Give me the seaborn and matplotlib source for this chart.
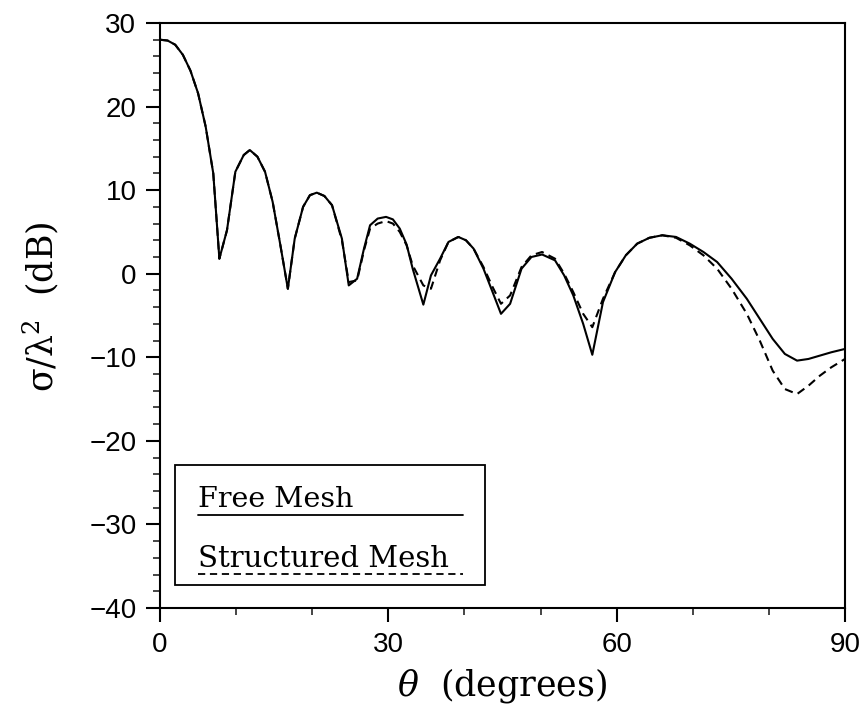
import matplotlib
matplotlib.use("Agg")
import matplotlib.pyplot as plt
import seaborn as sns
import pandas as pd
from matplotlib.patches import Rectangle
from matplotlib.ticker import MultipleLocator

theta = [0, 1, 2, 3, 4, 5, 6, 7, 7.8, 8.8, 9.9, 11, 11.8, 12.8, 13.8, 14.8, 15.8, 16.8,
         17.7, 18.8, 19.7, 20.6, 21.6, 22.6, 23.9, 24.8, 25.9, 26.8, 27.6, 28.6, 29.7,
         30.6, 31.5, 32.4, 33.2, 34.6, 35.6, 36.8, 37.9, 39.2, 40.2, 41.2, 42.5, 43.7,
         44.8, 46, 47.5, 48.8, 50.2, 51.9, 53.1, 54.3, 55.6, 56.8, 58.2, 59.8, 61.2,
         62.7, 64.3, 66, 67.8, 69.6, 71.4, 73.2, 75.1, 77.1, 78.8, 80.5, 82.1, 83.7,
         85.2, 86.7, 88.2, 90]

free_mesh = [28, 27.9, 27.4, 26.2, 24.3, 21.6, 17.6, 12.0, 1.8, 5.2, 12.2, 14.2, 14.8, 14.0,
             12.2, 8.6, 3.5, -1.8, 4.2, 8.0, 9.4, 9.7, 9.3, 8.2, 4.2, -1.4, -0.6, 3.0,
             5.8, 6.6, 6.8, 6.5, 5.4, 3.5, 0.6, -3.7, -0.2, 1.8, 3.8, 4.4, 4.0, 3.0, 0.6,
             -2.2, -4.8, -3.6, 0.6, 2.0, 2.3, 1.6, -0.2, -2.6, -6.0, -9.7, -3.4, 0.2,
             2.2, 3.6, 4.3, 4.6, 4.4, 3.6, 2.6, 1.4, -0.6, -3.0, -5.4, -7.8, -9.6, -10.4,
             -10.2, -9.8, -9.4, -9.0]

structured_mesh = [28, 27.9, 27.4, 26.2, 24.3, 21.6, 17.6, 12.0, 1.8, 5.2, 12.2, 14.2, 14.8, 14.0,
                   12.2, 8.6, 3.5, -1.8, 4.2, 8.0, 9.4, 9.7, 9.3, 8.2, 4.0, -1.0, -0.8, 2.8,
                   5.4, 6.0, 6.3, 6.0, 5.0, 3.4, 1.0, -1.4, -1.8, 1.6, 3.8, 4.4, 4.0, 3.0, 0.8,
                   -1.6, -3.6, -2.6, 0.8, 2.2, 2.6, 1.8, 0.0, -2.2, -4.8, -6.4, -3.0, 0.2,
                   2.2, 3.6, 4.3, 4.6, 4.3, 3.4, 2.2, 0.6, -1.8, -4.8, -8.0, -11.6, -13.8, -14.4,
                   -13.4, -12.2, -11.2, -10.2]

series_names = ["Free Mesh", "Structured Mesh"]
x_ticks = [0, 30, 60, 90]
y_ticks = [-40, -30, -20, -10, 0, 10, 20, 30]

df = pd.concat([
    pd.DataFrame({"theta": theta, "rcs": free_mesh, "mesh": series_names[0]}),
    pd.DataFrame({"theta": theta, "rcs": structured_mesh, "mesh": series_names[1]}),
])

sns.set_style("ticks")
plt.rcParams["font.family"] = ["Liberation Sans", "DejaVu Sans"]
plt.rcParams["text.color"] = "black"
plt.rcParams["axes.labelcolor"] = "black"
plt.rcParams["mathtext.fontset"] = "dejavuserif"
plt.rcParams["mathtext.default"] = "regular"

fig = plt.figure(figsize=(8.63, 7.06), dpi=100)
ax = fig.add_axes([160/863, 1-608/706, 685/863, 585/706])

sns.lineplot(data=df, x="theta", y="rcs", hue="mesh", style="mesh",
             palette=["black", "black"], dashes=[(None, None), (4, 2.6)],
             linewidth=1.5, legend=False, ax=ax, sort=False, estimator=None)

ax.set_xlim(0, 90)
ax.set_ylim(-40, 30)
ax.set_xticks(x_ticks)
ax.set_yticks(y_ticks)
ax.xaxis.set_minor_locator(MultipleLocator(10))
ax.yaxis.set_minor_locator(MultipleLocator(2))
ax.tick_params(axis="both", which="major", direction="out", length=10, width=1.5,
               labelsize=20, colors="black", pad=7, top=False, right=False)
ax.tick_params(axis="both", which="minor", direction="out", length=5, width=1.2,
               top=False, right=False)
for sp in ax.spines.values():
    sp.set_visible(True)
    sp.set_linewidth(1.5)
    sp.set_color("black")

ax.set_xlabel(r"$\mathit{\theta}$  (degrees)", fontsize=25, family="DejaVu Serif", labelpad=6)
ax.set_ylabel(r"σ/λ$^{2}$  (dB)", fontsize=25, family="DejaVu Serif")
ax.yaxis.set_label_coords(-0.145, 0.515)

# custom legend box (text with sample line beneath)
ax.add_patch(Rectangle((0.022, 0.039), 0.452, 0.205, transform=ax.transAxes,
                       fill=False, edgecolor="black", linewidth=1.3, zorder=5))
ax.text(0.055, 0.172, series_names[0], transform=ax.transAxes, fontsize=20.5,
        family="DejaVu Serif", va="baseline", ha="left")
ax.plot([0.055, 0.443], [0.159, 0.159], transform=ax.transAxes, color="black", lw=1.3)
ax.text(0.055, 0.070, series_names[1], transform=ax.transAxes, fontsize=21,
        family="DejaVu Serif", va="baseline", ha="left")
ax.plot([0.055, 0.443], [0.058, 0.058], transform=ax.transAxes, color="black", lw=1.3,
        dashes=(4, 2.6))

fig.savefig("out.png", dpi=100, facecolor="white")
